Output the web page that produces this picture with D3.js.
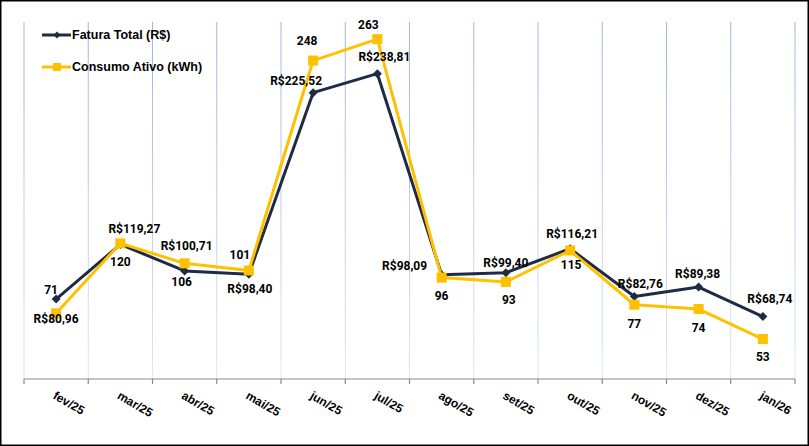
<!DOCTYPE html>
<html>
<head>
<meta charset="utf-8">
<script src="https://cdn.jsdelivr.net/npm/d3@7"></script>
<style>
  html, body { margin: 0; padding: 0; background: #fff; }
  svg { display: block; }
</style>
</head>
<body>
<div id="chart"></div>
<script>
// chart data
var months = ["fev/25", "mar/25", "abr/25", "mai/25", "jun/25", "jul/25",
              "ago/25", "set/25", "out/25", "nov/25", "dez/25", "jan/26"];
var fatura = [80.96, 119.27, 100.71, 98.40, 225.52, 238.81,
              98.09, 99.40, 116.21, 82.76, 89.38, 68.74];
var consumo = [71, 120, 106, 101, 248, 263, 96, 93, 115, 77, 74, 53];

// where each data label sits, relative to its point (text centre)
var faturaLabelPos = [[0, 20], [14, -15], [2, -25], [1, 15], [-17, -12], [7, -17],
                      [-37, -9], [0, -10], [2, -15], [6, -13], [-1, -13], [7, -18]];
var consumoLabelPos = [[-5, -23], [0, 19], [-3, 19], [-9, -15], [-6, -20], [-9, -14],
                       [0, 18], [3, 18], [1, 15], [0, 19], [0, 19], [0, 18]];

var W = 809, H = 446;
var plot = {left: 24, right: 795, top: 22, bottom: 379};
var navy = "#1f2b45", gold = "#ffc000";

function fmtBRL(v) {
  return "R$" + v.toFixed(2).replace(".", ",");
}

var svg = d3.select("#chart").append("svg")
    .attr("width", W)
    .attr("height", H);

svg.append("rect")
    .attr("x", 0.75).attr("y", 0.75)
    .attr("width", W - 1.5).attr("height", H - 1.5)
    .attr("fill", "#fff")
    .attr("stroke", "#000")
    .attr("stroke-width", 1.5);

// gradient used by the vertical gridlines
var grad = svg.append("defs").append("linearGradient")
    .attr("id", "gridGrad")
    .attr("gradientUnits", "userSpaceOnUse")
    .attr("x1", 0).attr("y1", plot.top)
    .attr("x2", 0).attr("y2", plot.bottom);
grad.append("stop").attr("offset", "0%").attr("stop-color", "#9db5e3");
grad.append("stop").attr("offset", "100%").attr("stop-color", "#dfe6f1");

var x = d3.scaleBand()
    .domain(months)
    .range([plot.left, plot.right])
    .padding(0);

// both series sit on their own (hidden) axis
var yFat = d3.scaleLinear().domain([25, 275]).range([plot.bottom, plot.top]);
var yCon = d3.scaleLinear().domain([25, 275]).range([plot.bottom, plot.top]);

var cx = function(i) { return x(months[i]) + x.bandwidth() / 2; };

// gridlines on category boundaries
var edges = months.map(function(m) { return x(m); }).concat([plot.right]);
svg.append("g").selectAll("line")
    .data(edges)
  .enter().append("line")
    .attr("x1", d => d).attr("x2", d => d)
    .attr("y1", plot.top).attr("y2", plot.bottom)
    .attr("stroke", "url(#gridGrad)")
    .attr("stroke-width", 1);

// x axis
var xAxis = svg.append("g")
    .attr("transform", "translate(0," + plot.bottom + ")");
xAxis.append("line")
    .attr("x1", plot.left).attr("x2", plot.right)
    .attr("stroke", "#8a8a8a").attr("stroke-width", 1.2);
xAxis.selectAll("line.tick")
    .data(edges)
  .enter().append("line")
    .attr("class", "tick")
    .attr("x1", d => d).attr("x2", d => d)
    .attr("y1", 0).attr("y2", 5)
    .attr("stroke", "#8a8a8a").attr("stroke-width", 1.2);
xAxis.selectAll("text")
    .data(months)
  .enter().append("text")
    .attr("transform", (d, i) => "translate(" + (cx(i) - 4) + ",19) rotate(30)")
    .attr("text-anchor", "start")
    .style("font-family", "'Liberation Sans', Arial, sans-serif")
    .style("font-weight", "bold")
    .style("font-size", "12px")
    .attr("fill", "#000")
    .text(d => d);

// lines
var lineFat = d3.line().x((d, i) => cx(i)).y(d => yFat(d));
var lineCon = d3.line().x((d, i) => cx(i)).y(d => yCon(d));

svg.append("path")
    .datum(fatura)
    .attr("d", lineFat)
    .attr("fill", "none")
    .attr("stroke", navy)
    .attr("stroke-width", 3)
    .attr("stroke-linejoin", "round");

svg.append("g").selectAll("path")
    .data(fatura)
  .enter().append("path")
    .attr("d", "M0,-4.5L4.5,0L0,4.5L-4.5,0Z")
    .attr("transform", (d, i) => "translate(" + cx(i) + "," + yFat(d) + ")")
    .attr("fill", navy);

svg.append("path")
    .datum(consumo)
    .attr("d", lineCon)
    .attr("fill", "none")
    .attr("stroke", gold)
    .attr("stroke-width", 3)
    .attr("stroke-linejoin", "round");

svg.append("g").selectAll("rect")
    .data(consumo)
  .enter().append("rect")
    .attr("x", (d, i) => cx(i) - 5)
    .attr("y", d => yCon(d) - 5)
    .attr("width", 10).attr("height", 10)
    .attr("fill", gold);

// data labels
var labelFont = "Roboto, 'Noto Sans', sans-serif";
svg.append("g").selectAll("text")
    .data(fatura)
  .enter().append("text")
    .attr("x", (d, i) => cx(i) + faturaLabelPos[i][0])
    .attr("y", (d, i) => yFat(d) + faturaLabelPos[i][1])
    .attr("text-anchor", "middle")
    .attr("dominant-baseline", "central")
    .style("font-family", labelFont)
    .style("font-weight", "bold")
    .style("font-size", "12px")
    .attr("fill", "#000")
    .text(d => fmtBRL(d));

svg.append("g").selectAll("text")
    .data(consumo)
  .enter().append("text")
    .attr("x", (d, i) => cx(i) + consumoLabelPos[i][0])
    .attr("y", (d, i) => yCon(d) + consumoLabelPos[i][1])
    .attr("text-anchor", "middle")
    .attr("dominant-baseline", "central")
    .style("font-family", labelFont)
    .style("font-weight", "bold")
    .style("font-size", "12px")
    .attr("fill", "#000")
    .text(d => d);

// legend
var legend = svg.append("g");
var items = [
  {name: "Fatura Total (R$)", color: navy, y: 35, mark: "diamond"},
  {name: "Consumo Ativo (kWh)", color: gold, y: 67, mark: "square"}
];
items.forEach(function(it) {
  legend.append("line")
      .attr("x1", 42).attr("x2", 71)
      .attr("y1", it.y).attr("y2", it.y)
      .attr("stroke", it.color).attr("stroke-width", 3);
  if (it.mark == "diamond") {
    legend.append("path")
        .attr("d", "M0,-3.5L3.5,0L0,3.5L-3.5,0Z")
        .attr("transform", "translate(57," + it.y + ")")
        .attr("fill", it.color);
  } else {
    legend.append("rect")
        .attr("x", 53).attr("y", it.y - 4)
        .attr("width", 8).attr("height", 8)
        .attr("fill", it.color);
  }
  legend.append("text")
      .attr("x", 72).attr("y", it.y)
      .attr("dominant-baseline", "central")
      .style("font-family", "'Liberation Sans', Arial, sans-serif")
      .style("font-weight", "bold")
      .style("font-size", "12.5px")
      .attr("fill", "#000")
      .text(it.name);
});
</script>
</body>
</html>
